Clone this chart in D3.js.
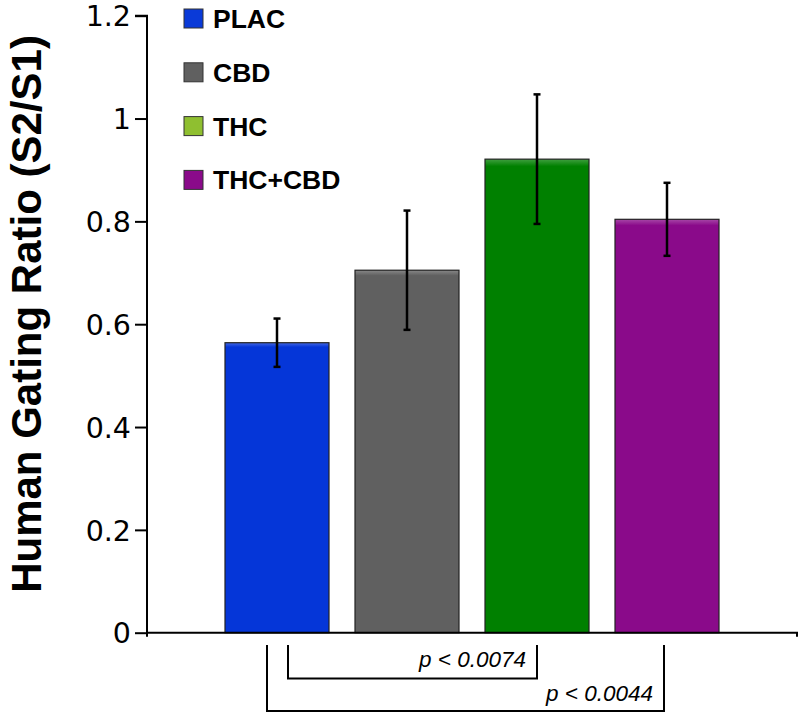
<!DOCTYPE html>
<html><head><meta charset="utf-8">
<script src="https://cdn.jsdelivr.net/npm/d3@7"></script>
<style>body{margin:0;background:#fff}svg{display:block}</style>
</head><body>
<svg id="c" width="800" height="715"></svg>
<script>
const categories = ["PLAC", "CBD", "THC", "THC+CBD"];
const means = [0.564, 0.705, 0.921, 0.804];
const sems = [0.047, 0.116, 0.126, 0.071];
const barColors = ["#0536d8", "#606060", "#008000", "#8a0a8a"];
const legendColors = ["#0a3ad8", "#606060", "#8fbf30", "#8a0a8a"];
const yTicks = [0, 0.2, 0.4, 0.6, 0.8, 1, 1.2];
const comparisons = [
  {a: "PLAC", b: "THC", label: "p < 0.0074"},
  {a: "PLAC", b: "THC+CBD", label: "p < 0.0044"}
];
const yTitle = "Human Gating Ratio (S2/S1)";

(function () {
const svg = d3.select("#c");
const pL = 147, pR = 797, pT = 15.7, pB = 632.7;
const x = d3.scaleBand().domain(categories).range([pL, pR]).paddingInner(0.2).paddingOuter(0.6);
const y = d3.scaleLinear().domain([0, 1.2]).range([pB, pT]);

const defs = svg.append("defs");
barColors.forEach((c, i) => {
  const g = defs.append("linearGradient").attr("id", "g" + i).attr("x1", 0).attr("y1", 0).attr("x2", 0).attr("y2", 1);
  const light = d3.interpolateRgb(c, "#ffffff")(0.25);
  g.append("stop").attr("offset", "0%").attr("stop-color", light);
  g.append("stop").attr("offset", "1.5%").attr("stop-color", c);
  g.append("stop").attr("offset", "100%").attr("stop-color", c);
});

const yAxis = d3.axisLeft(y).tickValues(yTicks).tickSize(12).tickPadding(4).tickFormat(d3.format("~g"));
const ya = svg.append("g").attr("transform", `translate(${pL},0)`).call(yAxis);
ya.attr("font-size", null).attr("font-family", null);
ya.select(".domain").attr("stroke", "#000").attr("stroke-width", 2).attr("d", `M-12,${pT}H0V${pB + 4}`);
ya.selectAll(".tick line").attr("stroke", "#000").attr("stroke-width", 2);
ya.selectAll(".tick text").attr("font-family", "'DejaVu Sans', sans-serif").attr("font-size", 28.5).attr("fill", "#000").attr("dy", "0.36em");

svg.append("g").selectAll("rect").data(categories).join("rect")
  .attr("x", d => x(d))
  .attr("y", (d, i) => y(means[i]))
  .attr("width", x.bandwidth())
  .attr("height", (d, i) => y(0) - y(means[i]))
  .attr("fill", (d, i) => `url(#g${i})`)
  .attr("stroke", "#222").attr("stroke-width", 1.2);

svg.append("path").attr("d", `M${pL},${pB}H${pR}V${pB + 4}`).attr("stroke", "#000").attr("stroke-width", 2).attr("fill", "none");

const eb = svg.append("g").attr("stroke", "#000");
categories.forEach((c, i) => {
  const cx = x(c) + x.bandwidth() / 2;
  const hi = y(means[i] + sems[i]), lo = y(means[i] - sems[i]);
  eb.append("line").attr("x1", cx).attr("x2", cx).attr("y1", hi).attr("y2", lo).attr("stroke-width", 2.5);
  eb.append("line").attr("x1", cx - 3.5).attr("x2", cx + 3.5).attr("y1", hi).attr("y2", hi).attr("stroke-width", 2.5);
  eb.append("line").attr("x1", cx - 3.5).attr("x2", cx + 3.5).attr("y1", lo).attr("y2", lo).attr("stroke-width", 2.5);
});

const lg = svg.append("g");
categories.forEach((c, i) => {
  const ly = 9 + i * 53.8;
  lg.append("rect").attr("x", 184).attr("y", ly).attr("width", 19).attr("height", 19)
    .attr("fill", legendColors[i]).attr("stroke", "#333").attr("stroke-width", 1);
  lg.append("text").attr("x", 213).attr("y", ly + 19).text(c)
    .attr("font-family", "'Liberation Sans', Arial, sans-serif").attr("font-weight", "bold").attr("font-size", 26.5).attr("fill", "#000");
});

svg.append("text").attr("transform", "translate(41,314) rotate(-90)").attr("text-anchor", "middle")
  .attr("font-family", "'Liberation Sans', Arial, sans-serif").attr("font-weight", "bold").attr("font-size", 42)
  .attr("fill", "#000").text(yTitle);

const cx = c => x(c) + x.bandwidth() / 2;
const brackets = [
  {x1: cx("PLAC") + 11, x2: cx("THC"), yb: 678.5, tx: 526, ty: 667},
  {x1: cx("PLAC") - 10, x2: cx("THC+CBD") - 3, yb: 711, tx: 653, ty: 701}
];
const bg = svg.append("g");
comparisons.forEach((cmp, i) => {
  const b = brackets[i];
  bg.append("path").attr("d", `M${b.x1},645V${b.yb}H${b.x2}V645`).attr("fill", "none").attr("stroke", "#000").attr("stroke-width", 2);
  bg.append("text").attr("x", b.tx).attr("y", b.ty).attr("text-anchor", "end")
    .attr("font-family", "'Liberation Sans', Arial, sans-serif").attr("font-style", "italic").attr("font-size", 22.5)
    .attr("fill", "#000").text(cmp.label);
});
})();
</script>
</body></html>
